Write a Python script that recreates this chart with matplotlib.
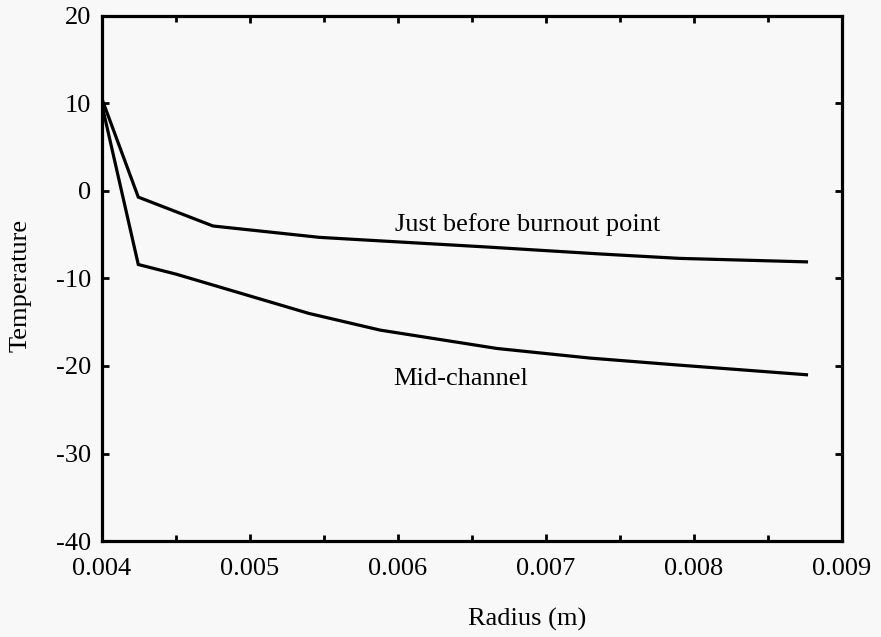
import matplotlib
matplotlib.use("Agg")
import matplotlib.pyplot as plt
from matplotlib.ticker import MultipleLocator

# values
radius_burnout = [0.004, 0.004245, 0.00475, 0.00547, 0.00588, 0.0066, 0.00737, 0.0079, 0.00876]
temp_burnout = [10.5, -0.7, -4.0, -5.3, -5.7, -6.4, -7.2, -7.7, -8.1]

radius_mid = [0.004, 0.004245, 0.0045, 0.00502, 0.0054, 0.00588, 0.00667, 0.0073, 0.0079, 0.00876]
temp_mid = [9.8, -8.4, -9.5, -12.1, -14.0, -15.9, -18.0, -19.1, -19.9, -21.0]

xticks = [0.004, 0.005, 0.006, 0.007, 0.008, 0.009]
xticklabels = ["0.004", "0.005", "0.006", "0.007", "0.008", "0.009"]
yticks = [-40, -30, -20, -10, 0, 10, 20]

plt.rcParams["font.family"] = ["Liberation Serif", "DejaVu Serif"]
plt.rcParams["axes.unicode_minus"] = False

bg = "#f8f8f8"
fig = plt.figure(figsize=(8.81, 6.37), dpi=100, facecolor=bg)
ax = fig.add_axes([0.1158, 0.1507, 0.8399, 0.8242], facecolor=bg)

ax.plot(radius_burnout, temp_burnout, color="black", lw=2.3, solid_joinstyle="miter")
ax.plot(radius_mid, temp_mid, color="black", lw=2.3, solid_joinstyle="miter")

ax.text(0.00598, -3.8, "Just before burnout point", fontsize=19, va="center", ha="left")
ax.text(0.005966, -21.5, "Mid-channel", fontsize=19, va="center", ha="left")

ax.set_xlim(0.004, 0.009)
ax.set_ylim(-40, 20)
ax.set_xticks(xticks)
ax.set_xticklabels(xticklabels)
ax.set_yticks(yticks)
ax.xaxis.set_minor_locator(MultipleLocator(0.0005))

ax.tick_params(axis="both", which="both", direction="in", top=True, right=True,
               width=2, labelsize=19)
ax.tick_params(axis="both", which="major", length=5)
ax.tick_params(axis="x", which="minor", length=4)
ax.tick_params(axis="x", which="major", pad=12)
ax.tick_params(axis="y", which="major", pad=8)

for s in ax.spines.values():
    s.set_linewidth(2.3)

ax.set_xlabel("Radius (m)", fontsize=19)
ax.xaxis.set_label_coords(0.574, -0.128)
ax.set_ylabel("Temperature", fontsize=19)
ax.yaxis.set_label_coords(-0.095, 0.487)

fig.savefig("out.png", dpi=100, facecolor=bg)
